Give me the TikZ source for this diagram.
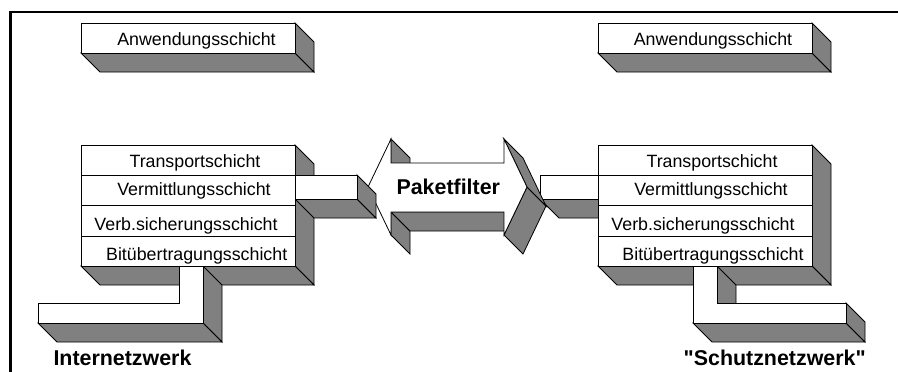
\documentclass[tikz,border=0pt]{standalone}
\usepackage{fontspec}
% straight double quotes stay straight
\setmainfont{Liberation Sans}[Ligatures=TeXOff]
\definecolor{shade}{HTML}{808080}
\tikzset{
  side/.style={draw=black, fill=shade, line width=0.8pt, line join=miter},
  front/.style={draw=black, fill=white, line width=0.8pt, line join=miter},
  layer/.style={anchor=base, inner sep=0pt, font=\fontsize{17.8}{20}\selectfont},
  title/.style={anchor=base, inner sep=0pt, font=\fontsize{21.4}{24}\selectfont\bfseries},
}
% extrusion depth of every slab
\def\dd{19}
% slab: front rectangle (#1,#2)-(#3,#4), extruded down and to the right
\newcommand\slab[4]{%
  \draw[side] (#1,#4) -- (#1+\dd,#4+\dd) -- (#3+\dd,#4+\dd) -- (#3,#4) -- cycle;
  \draw[side] (#3,#2) -- (#3+\dd,#2+\dd) -- (#3+\dd,#4+\dd) -- (#3,#4) -- cycle;
  \draw[front] (#1,#2) rectangle (#3,#4);}
\begin{document}
\begin{tikzpicture}[x=1pt,y=-1pt]
\useasboundingbox (0,0) rectangle (898,372);
% frame
\draw[line width=2.3pt] (10.5,372) -- (10.5,11.7) -- (898,11.7);

% application layers
\slab{81}{23}{295}{53}
\slab{598}{23}{812}{53}

% ---- right stack ----
\draw[side] (812,145) -- (831,164) -- (831,285) -- (812,266) -- cycle;
\draw[side] (598,266) -- (617,285) -- (831,285) -- (812,266) -- cycle;
% cable to the protected network
\draw[side] (717,266) -- (736,285) -- (736,322) -- (717,303) -- cycle;
\draw[side] (693,323) -- (712,342) -- (865,342) -- (846,323) -- cycle;
\draw[side] (846,303) -- (865,322) -- (865,342) -- (846,323) -- cycle;
\draw[front] (693,266) -- (693,323) -- (846,323) -- (846,303) -- (717,303) -- (717,266);
% network layer bar pointing to the filter
\draw[side] (540,199) -- (559,218) -- (617,218) -- (598,199) -- cycle;
\draw[front] (540,175) rectangle (598,199);
% layer block
\draw[front] (598,145) rectangle (812,266);
\draw[line width=0.8pt] (598,175) -- (812,175) (598,205) -- (812,205) (598,236) -- (812,236);

% ---- packet filter double arrow ----
\draw[side] (391,139) -- (410,158) -- (410,182) -- (391,163) -- cycle;
\draw[side] (391,212) -- (410,231) -- (410,254) -- (391,235) -- cycle;
\draw[side] (391,212) -- (410,231) -- (523,231) -- (504,212) -- cycle;
\draw[side] (527,187) -- (504,235) -- (523,254) -- (546,206) -- cycle;
\draw[side] (504,139) -- (527,187) -- (546,206) -- (523,158) -- cycle;
\draw[front] (368,187) -- (391,139) -- (391,163) -- (504,163) -- (504,139)
  -- (527,187) -- (504,235) -- (504,212) -- (391,212) -- (391,235) -- cycle;

% ---- left stack ----
\draw[side] (295,145) -- (314,164) -- (314,285) -- (295,266) -- cycle;
\draw[side] (81,266) -- (100,285) -- (314,285) -- (295,266) -- cycle;
% cable to the internetwork
\draw[side] (203,266) -- (222,285) -- (222,342) -- (203,323) -- cycle;
\draw[side] (38,323) -- (57,342) -- (222,342) -- (203,323) -- cycle;
\draw[front] (179,266) -- (179,303) -- (38,303) -- (38,323) -- (203,323) -- (203,266);
% network layer bar pointing to the filter
\draw[side] (295,199) -- (314,218) -- (376,218) -- (357,199) -- cycle;
\draw[side] (357,175) -- (376,194) -- (376,218) -- (357,199) -- cycle;
\draw[front] (295,175) rectangle (357,199);
% layer block
\draw[front] (81,145) rectangle (295,266);
\draw[line width=0.8pt] (81,175) -- (295,175) (81,205) -- (295,205) (81,236) -- (295,236);

% ---- texts ----
\node[layer] (appL)  at (196.5,45.5) {Anwendungsschicht};
\node[layer] (trL)   at (195,167)    {Transportschicht};
\node[layer] (netL)  at (194,195)    {Vermittlungsschicht};
\node[layer] (dlL)   at (186,230)    {Verb.sicherungsschicht};
\node[layer] (phyL)  at (196.7,260.5){Bitübertragungsschicht};

\node[layer] (appR)  at (713,45.5)   {Anwendungsschicht};
\node[layer] (trR)   at (712,167)    {Transportschicht};
\node[layer] (netR)  at (711,195)    {Vermittlungsschicht};
\node[layer] (dlR)   at (703,230)    {Verb.sicherungsschicht};
\node[layer] (phyR)  at (713,260.5)  {Bitübertragungsschicht};

\node[title] (filter) at (448.3,194.5) {Paketfilter};
\node[title] (inet)   at (122.5,365)   {Internetzwerk};
\node[title] (prot)   at (774.7,365)   {"Schutznetzwerk"};
\end{tikzpicture}
\end{document}
